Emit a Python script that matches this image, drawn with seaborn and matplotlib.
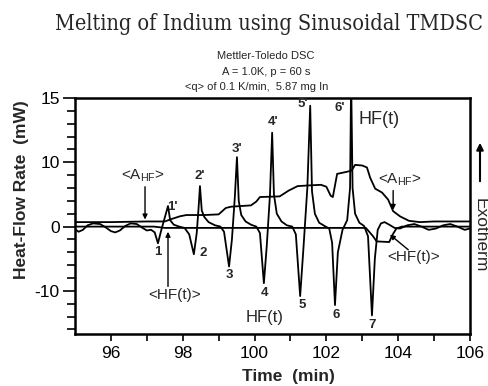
import numpy as np
import matplotlib
matplotlib.use("Agg")
import matplotlib.pyplot as plt
import seaborn as sns

# ---------------- data ----------------
hf_time = [95.00, 95.10, 95.22, 95.35, 95.50, 95.70, 95.85, 96.00, 96.12, 96.25,
           96.40, 96.55, 96.72, 96.88, 97.00, 97.12, 97.22, 97.31, 97.40, 97.52,
           97.59, 97.65, 97.75, 97.90, 98.05, 98.18, 98.31, 98.39, 98.44, 98.48,
           98.53, 98.60, 98.72, 98.90, 99.05, 99.15, 99.29, 99.37, 99.45, 99.51,
           99.56, 99.63, 99.75, 99.90, 100.05, 100.15, 100.26, 100.34, 100.43, 100.49,
           100.54, 100.62, 100.75, 100.90, 101.05, 101.15, 101.27, 101.36, 101.47, 101.55,
           101.60, 101.68, 101.80, 101.95, 102.08, 102.16, 102.24, 102.32, 102.45, 102.58,
           102.66, 102.69, 102.73, 102.80, 102.92, 103.05, 103.16, 103.27, 103.35, 103.43,
           103.52, 103.62, 103.75, 103.90, 104.05, 104.25, 104.45, 104.65, 104.85, 105.05,
           105.25, 105.45, 105.65, 105.85, 106.00]
hf_value = [-0.4, -0.8, -0.5, 0.2, 0.5, 0.4, -0.1, -0.7, -0.9, -0.6,
            0.1, 0.5, 0.4, -0.2, -0.6, -0.5, -0.9, -2.6, -0.6, 1.8,
            3.2, 1.0, 0.3, 0.0, -0.2, -1.2, -4.3, -1.0, 2.8, 6.3,
            2.5, 1.5, 0.7, 0.2, 0.0, -0.8, -6.2, -2.0, 4.5, 10.4,
            4.0, 1.8, 0.8, 0.3, 0.0, -1.0, -8.8, -3.0, 5.0, 12.3,
            5.0, 2.0, 0.8, 0.2, 0.0, -1.2, -10.8, -3.5, 6.0, 14.4,
            5.5, 2.0, 0.6, 0.1, -0.3, -2.5, -12.2, -4.0, -0.5, 1.0,
            6.0, 16.5, 6.0, 2.0, 0.6, 0.1, -1.5, -13.8, -5.0, -0.5,
            0.5, 0.7, 0.3, -0.2, -0.3, 0.2, 0.4, 0.0, -0.5, -0.3,
            0.2, 0.4, 0.0, -0.5, -0.3]

ahf_time = [95.0, 96.0, 97.0, 97.5, 97.7, 97.92, 98.1, 98.6, 99.0, 99.2,
            99.35, 99.9, 100.05, 100.15, 100.7, 100.95, 101.2, 101.5, 101.85, 102.0,
            102.12, 102.18, 102.3, 102.55, 102.7, 102.8, 103.0, 103.13, 103.22, 103.36,
            103.55, 103.72, 103.86, 104.05, 104.3, 104.6, 105.0, 106.0]
ahf_value = [0.7, 0.7, 0.8, 0.8, 1.2, 1.6, 1.8, 1.8, 1.9, 2.9,
             3.1, 3.3, 3.9, 4.6, 4.7, 5.6, 6.3, 6.4, 6.5, 6.2,
             4.8, 4.6, 8.2, 8.5, 8.7, 9.6, 9.5, 9.2, 7.6, 5.9,
             5.3, 4.2, 2.4, 1.6, 0.9, 0.7, 0.8, 0.8]

avg_time = [95.0, 97.2, 97.5, 103.1, 103.3, 103.4, 103.75, 103.85, 103.95, 104.1, 106.0]
avg_value = [0.0, 0.0, -0.2, -0.2, -1.5, -2.3, -2.4, -1.2, -0.3, 0.0, 0.0]

peak_labels = ["1'", "1", "2'", "2", "3'", "3", "4'", "4", "5'", "5", "6'", "6", "7"]
peak_x = [97.70, 97.31, 98.48, 98.57, 99.51, 99.29, 100.52, 100.29, 101.35, 101.32, 102.38, 102.27, 103.27]
peak_y = [3.1, -3.9, 7.8, -4.1, 11.0, -7.5, 13.15, -10.3, 14.5, -12.2, 14.2, -13.75, -15.3]

x_major = [96, 98, 100, 102, 104, 106]
x_minor = [97, 99, 101, 103, 105]
y_major = [-10, 0, 10, 15]
y_minor = [-16, -14, -12, -8, -6, -4, -2, 2, 4, 6, 8, 11, 12, 13, 14]

# ---------------- style ----------------
sns.set_theme(style="ticks")
plt.rcParams['font.family'] = ['Liberation Sans', 'DejaVu Sans']

fig = plt.figure(figsize=(4.88, 3.86), dpi=100)
ax = fig.add_axes([75/488, 52/386, 395/488, 236/386])

# the original axis is stretched above 10 mW
def fwd(y):
    y = np.asarray(y, dtype=float)
    return np.where(y <= 10, y, 10 + 2.0*(y - 10))

def inv(t):
    t = np.asarray(t, dtype=float)
    return np.where(t <= 10, t, 10 + (t - 10)/2.0)

ax.set_yscale('function', functions=(fwd, inv))

lw = 1.3
sns.lineplot(x=avg_time, y=avg_value, ax=ax, color='black', lw=lw, estimator=None)
sns.lineplot(x=ahf_time, y=ahf_value, ax=ax, color='black', lw=lw, estimator=None)
sns.lineplot(x=hf_time, y=hf_value, ax=ax, color='black', lw=lw, estimator=None)

ax.set_xlim(95, 106)
ax.set_ylim(-16.7, 15)
ax.set_xticks(x_major)
ax.set_xticks(x_minor, minor=True)
ax.set_yticks(y_major)
ax.set_yticks(y_minor, minor=True)
ax.set_xticklabels([str(v) for v in x_major], fontsize=12.5)
ax.set_yticklabels([str(v) for v in y_major], fontsize=12.5)
ax.tick_params(axis='y', which='major', direction='out', length=9, width=1.2, pad=2, colors='black')
ax.tick_params(axis='y', which='minor', direction='out', length=6, width=1.2, colors='black')
ax.tick_params(axis='x', which='both', direction='out', length=5, width=1.2, pad=4, colors='black')
for s in ax.spines.values():
    s.set_visible(True)
    s.set_linewidth(1.8)
    s.set_color('black')

ax.set_xlabel("")
ax.set_ylabel("")
fig.text(288/488, 1-376/386, "Time  (min)", ha='center', va='center', fontsize=12.5, fontweight='bold')
fig.text(22/488, 1-190/386, "Heat-Flow Rate  (mW)", ha='center', va='center', rotation=90,
         fontsize=12.5, fontweight='bold')

# titles
fig.text(269/488, 1-24/386, "Melting of Indium using Sinusoidal TMDSC", ha='center', va='center',
         family=['DejaVu Serif', 'Liberation Serif'], fontstretch='condensed', fontsize=15.5)
fig.text(266/488, 1-56/386, "Mettler-Toledo DSC", ha='center', va='center', fontsize=8)
fig.text(266/488, 1-72/386, "A = 1.0K, p = 60 s", ha='center', va='center', fontsize=8)
fig.text(257/488, 1-87/386, "<q> of 0.1 K/min,  5.87 mg In", ha='center', va='center', fontsize=8)

# peak numbers
for lab, px, py in zip(peak_labels, peak_x, peak_y):
    ax.text(px, py, lab, ha='center', va='center', fontsize=9.5, fontweight='bold')

# curve labels and arrows
arr = dict(arrowstyle='-|>', color='black', lw=1.0, mutation_scale=7, shrinkA=0, shrinkB=0)
ax.text(96.9, 8.0, "<A$_{\\mathregular{HF}}$>", ha='center', va='center', fontsize=11)
ax.annotate("", xy=(96.95, 1.1), xytext=(96.95, 6.2), arrowprops=arr)
ax.text(97.76, -10.6, "<HF(t)>", ha='center', va='center', fontsize=11)
ax.annotate("", xy=(97.59, -0.8), xytext=(97.59, -9.3), arrowprops=arr)
ax.text(104.05, 7.3, "<A$_{\\mathregular{HF}}$>", ha='center', va='center', fontsize=11)
ax.annotate("", xy=(103.86, 2.6), xytext=(103.86, 5.6), arrowprops=arr)
ax.text(104.42, -4.7, "<HF(t)>", ha='center', va='center', fontsize=11)
ax.annotate("", xy=(103.77, -1.25), xytext=(104.28, -3.6), arrowprops=arr)
ax.text(103.47, 13.3, "HF(t)", ha='center', va='center', fontsize=13)
ax.text(100.29, -14.2, "HF(t)", ha='center', va='center', fontsize=12)

# Exotherm marker
fig.text(480/488, 1-235/386, "Exotherm", ha='center', va='center', rotation=-90, fontsize=12.5)
fig.add_artist(matplotlib.patches.FancyArrowPatch((480/488, 1-184/386), (480/488, 1-140/386),
               transform=fig.transFigure, arrowstyle='-|>', mutation_scale=10, color='black', lw=1.5))

fig.savefig("out.png", dpi=100)
